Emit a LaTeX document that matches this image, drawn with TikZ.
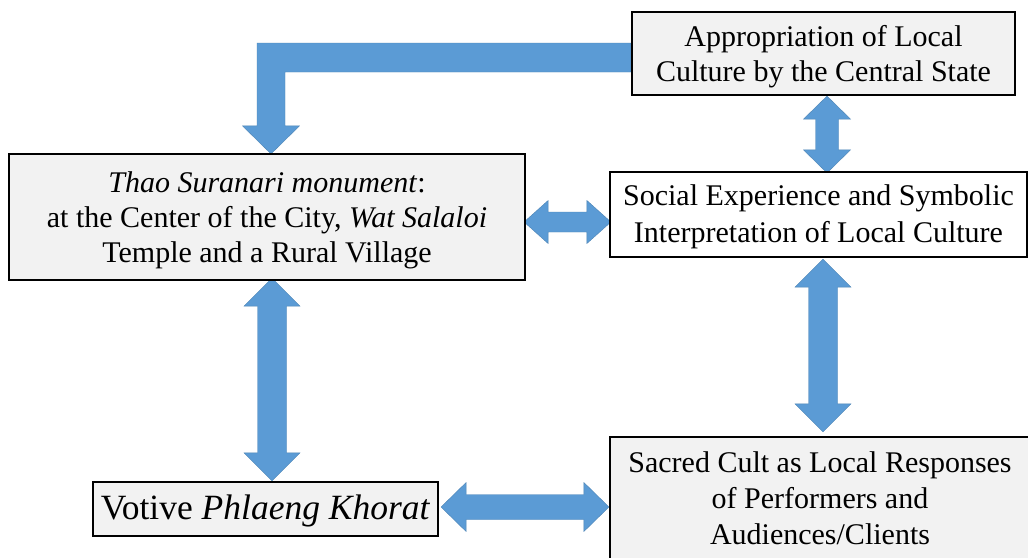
\documentclass[tikz,border=0pt]{standalone}
\usepackage{fontspec}
\setmainfont{Liberation Serif}
\usetikzlibrary{calc,backgrounds}
\definecolor{boxgray}{HTML}{F2F2F2}
\definecolor{arrowblue}{HTML}{5B9BD5}
\tikzset{
  box/.style={draw=black, line width=2.2pt, rectangle, inner sep=0pt},
  graybox/.style={box, fill=boxgray},
  whitebox/.style={box, fill=white},
  label text/.style={inner sep=0pt, align=center, font=\fontsize{30}{35}\selectfont},
  arrowfill/.style={fill=arrowblue, draw=arrowblue!85!black, line width=0.4pt, line join=miter}
}
\newcommand{\hdarr}[5]{%
  \fill[arrowfill] (#1) -- ($(#1)+(#5,-#4)$) -- ($(#1)+(#5,-#3)$) -- ($(#2)+(-#5,-#3)$) -- ($(#2)+(-#5,-#4)$) -- (#2) -- ($(#2)+(-#5,#4)$) -- ($(#2)+(-#5,#3)$) -- ($(#1)+(#5,#3)$) -- ($(#1)+(#5,#4)$) -- cycle;}
\newcommand{\vdarr}[5]{%
  \fill[arrowfill] (#1) -- ($(#1)+(#4,#5)$) -- ($(#1)+(#3,#5)$) -- ($(#2)+(#3,-#5)$) -- ($(#2)+(#4,-#5)$) -- (#2) -- ($(#2)+(-#4,-#5)$) -- ($(#2)+(-#3,-#5)$) -- ($(#1)+(-#3,#5)$) -- ($(#1)+(-#4,#5)$) -- cycle;}
\begin{document}
\begin{tikzpicture}[x=1pt,y=-1pt]
\useasboundingbox (0,0) rectangle (1028,557);
% boxes
\node[graybox, minimum width=383pt, minimum height=83pt] (A) at (823.5,53.5) {};
\node[label text] (At) at ($(A.center)+(0,3.5)$) {Appropriation of Local\\Culture by the Central State};
\node[whitebox, minimum width=417pt, minimum height=85pt] (S) at (818.5,214.5) {};
\node[label text, font=\fontsize{30}{37.5}\selectfont] (St) at ($(S.center)+(0,2.5)$) {Social Experience and Symbolic\\Interpretation of Local Culture};
\node[graybox, minimum width=516pt, minimum height=126pt] (T) at (267,217) {};
\node[label text] (Tt) at ($(T.center)+(0,3)$) {\textit{Thao Suranari monument}:\\at the Center of the City, \textit{Wat Salaloi}\\Temple and a Rural Village};
\node[graybox, minimum width=345pt, minimum height=54pt] (V) at (265.5,509) {};
\node[label text, font=\fontsize{35.5}{40}\selectfont] (Vt) at ($(V.center)+(0,1.5)$) {Votive \textit{Phlaeng Khorat}};
\node[graybox, minimum width=420pt, minimum height=123pt] (C) at (820,498.5) {};
\node[label text, font=\fontsize{30}{36}\selectfont] (Ct) at ($(C.center)+(0,0)$) {Sacred Cult as Local Responses\\of Performers and\\Audiences/Clients};
% connector end points
\coordinate (ts1) at ($(T.east)+(-2,5)$);
\coordinate (ts2) at ($(ts1 -| S.west)+(2,0)$);
\coordinate (as1) at ($(A.south)+(3.5,0)$);
\coordinate (as2) at ($(as1 |- S.north)+(0,2)$);
\coordinate (tv1) at ($(T.south)+(5,-3)$);
\coordinate (tv2) at (tv1 |- V.north);
\coordinate (sc1) at ($(S.south)+(4.5,1)$);
\coordinate (sc2) at ($(sc1 |- C.north)+(0,-4)$);
\coordinate (vc1) at ($(V.east)+(2,-2)$);
\coordinate (vc2) at (vc1 -| C.west);
\coordinate (e1) at ($(A.west)+(0,-10.5)$);
\coordinate (e2) at ($(A.west)+(0,18.5)$);
\coordinate (et) at ($(T.north)+(4,1)$);
\begin{scope}[on background layer]
  \fill[white] (0,0) rectangle (1028,557);
  \fill[arrowfill] (e1) -- ($(e1 -| et)+(-14,0)$) -- ($(et)+(-14,-28)$) -- ($(et)+(-28.5,-28)$) -- (et) -- ($(et)+(28.5,-28)$) -- ($(et)+(14,-28)$) -- ($(e2 -| et)+(14,0)$) -- (e2) -- cycle;
  \hdarr{ts1}{ts2}{10}{21.5}{24}
  \vdarr{as1}{as2}{11.5}{23.5}{23}
  \vdarr{tv1}{tv2}{14.5}{28}{28}
  \vdarr{sc1}{sc2}{14.5}{28}{28}
  \hdarr{vc1}{vc2}{12.5}{24.5}{25}
\end{scope}
\end{tikzpicture}
\end{document}
